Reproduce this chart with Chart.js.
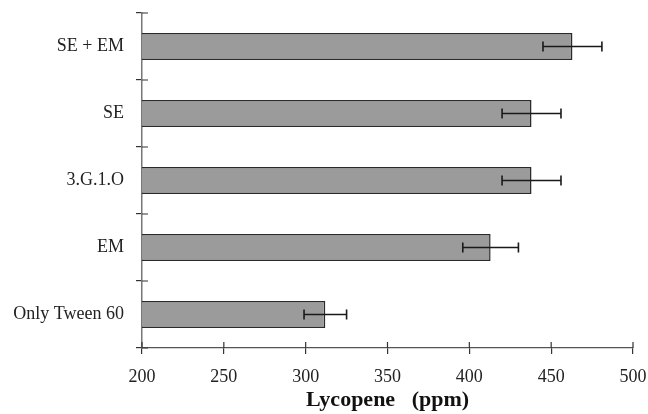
<!DOCTYPE html>
<html>
<head>
<meta charset="utf-8">
<script src="https://cdn.jsdelivr.net/npm/chart.js@4/dist/chart.umd.min.js"></script>
<style>
  html, body { margin: 0; padding: 0; background: #fff; }
  #wrap { width: 648px; height: 414px; }
</style>
</head>
<body>
<div id="wrap"><canvas id="c" width="648" height="414"></canvas></div>
<script>
const categories = ["SE + EM", "SE", "3.G.1.O", "EM", "Only Tween 60"];
const lycopene = [463, 438, 438, 413, 312];
const errors = [18, 18, 18, 17, 13];
const xTicks = [200, 250, 300, 350, 400, 450, 500];
const axisTitle = "Lycopene   (ppm)";

const serif = "'Liberation Serif', 'Times New Roman', serif";

const errorBars = {
  id: 'errorBars',
  afterDatasetsDraw(chart) {
    const ctx = chart.ctx;
    const x = chart.scales.x, y = chart.scales.y;
    ctx.save();
    ctx.strokeStyle = '#1a1a1a';
    ctx.lineWidth = 1.6;
    lycopene.forEach((v, i) => {
      const cy = y.getPixelForValue(i);
      const x0 = x.getPixelForValue(v - errors[i]);
      const x1 = x.getPixelForValue(v + errors[i]);
      ctx.beginPath();
      ctx.moveTo(x0, cy); ctx.lineTo(x1, cy);
      ctx.moveTo(x0, cy - 5); ctx.lineTo(x0, cy + 5);
      ctx.moveTo(x1, cy - 5); ctx.lineTo(x1, cy + 5);
      ctx.stroke();
    });
    ctx.restore();
  }
};

const innerTicks = {
  id: 'innerTicks',
  afterDraw(chart) {
    const ctx = chart.ctx;
    const x = chart.scales.x, y = chart.scales.y;
    const area = chart.chartArea;
    ctx.save();
    ctx.strokeStyle = '#333';
    ctx.lineWidth = 1.2;
    ctx.beginPath();
    x.ticks.forEach((t, i) => {
      const px = x.getPixelForTick(i);
      ctx.moveTo(px, area.bottom); ctx.lineTo(px, area.bottom - 6);
    });
    for (let i = 0; i <= categories.length; i++) {
      const py = y.getPixelForValue(i - 0.5);
      ctx.moveTo(area.left, py); ctx.lineTo(area.left + 6, py);
    }
    ctx.stroke();
    ctx.restore();
  }
};

new Chart(document.getElementById('c'), {
  type: 'bar',
  data: {
    labels: categories,
    datasets: [{
      data: lycopene,
      backgroundColor: '#9b9b9b',
      borderColor: '#2a2a2a',
      borderWidth: 1.5,
      borderSkipped: false,
      barPercentage: 0.4,
      categoryPercentage: 1.0
    }]
  },
  options: {
    indexAxis: 'y',
    responsive: false,
    animation: false,
    devicePixelRatio: 1,
    layout: { padding: { top: 13, right: 15, left: 0, bottom: 0 } },
    plugins: { legend: { display: false }, tooltip: { enabled: false } },
    scales: {
      x: {
        type: 'linear',
        min: 200, max: 500,
        afterBuildTicks(scale) { scale.ticks = xTicks.map(v => ({ value: v })); },
        afterFit(scale) { scale.height = 66; scale.paddingLeft = 0; scale.paddingRight = 0; },
        border: { display: true, color: '#555', width: 1.3 },
        grid: { display: true, drawOnChartArea: false, drawTicks: true, tickLength: 6, color: '#333', lineWidth: 1.2 },
        ticks: { color: '#222', padding: 12, font: { family: serif, size: 18 } },
        title: {
          display: true, text: axisTitle, color: '#111',
          font: { family: serif, size: 22, weight: 'bold' },
          padding: { top: 0, bottom: 0 }
        }
      },
      y: {
        type: 'category',
        offset: true,
        afterFit(scale) { scale.width = 142; scale.paddingTop = 0; scale.paddingBottom = 0; },
        border: { display: true, color: '#777', width: 1.5 },
        grid: { display: true, offset: true, drawOnChartArea: false, drawTicks: true, tickLength: 6, color: '#333', lineWidth: 1.2 },
        ticks: { color: '#222', padding: 12, font: { family: serif, size: 18 } }
      }
    }
  },
  plugins: [errorBars, innerTicks]
});
</script>
</body>
</html>
